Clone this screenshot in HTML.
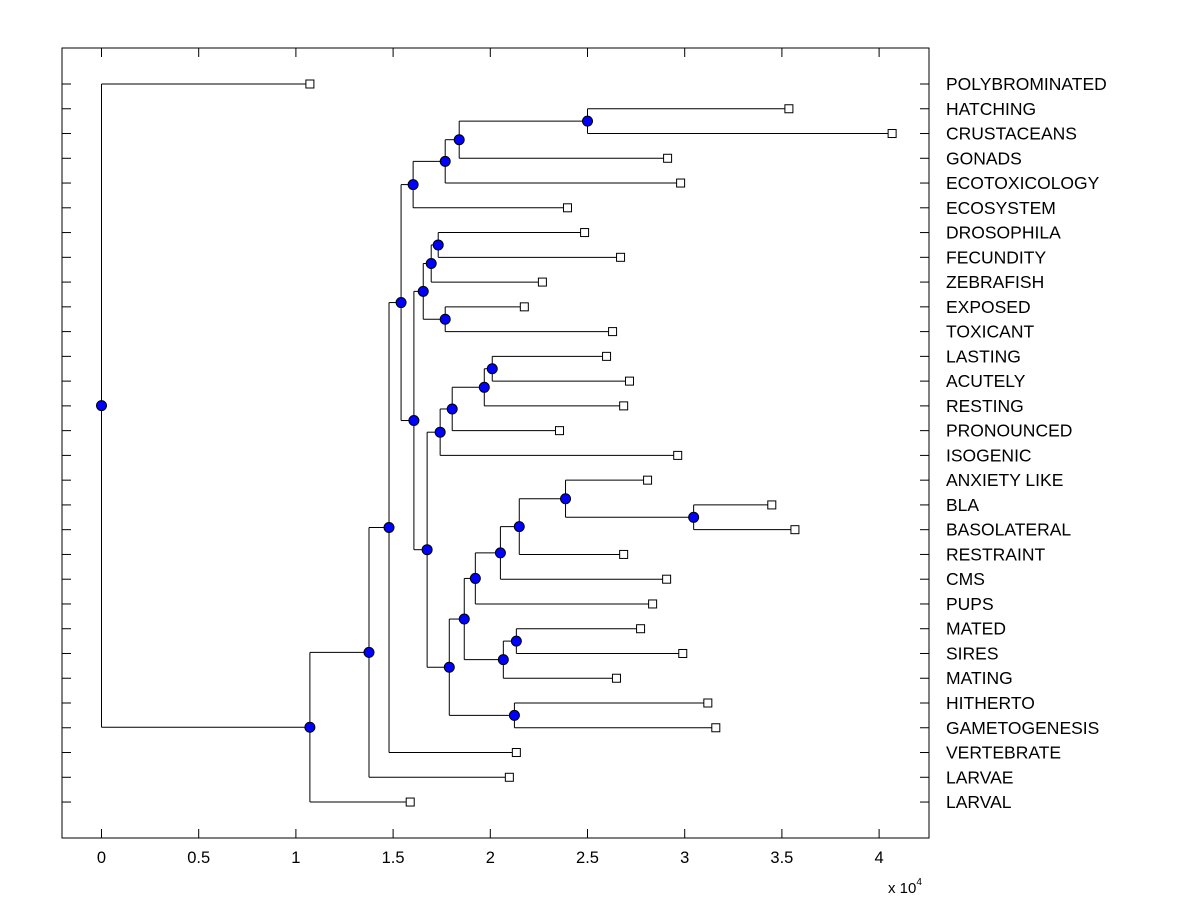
<!DOCTYPE html>
<html><head><meta charset="utf-8"><style>
body{margin:0;background:#fff;}
svg{display:block;font-family:"Liberation Sans",Arial,sans-serif;}
</style></head><body>
<svg id="chart" width="1200" height="900" viewBox="0 0 1200 900"></svg>
<script>
const labels=["POLYBROMINATED","HATCHING","CRUSTACEANS","GONADS","ECOTOXICOLOGY","ECOSYSTEM","DROSOPHILA","FECUNDITY","ZEBRAFISH","EXPOSED","TOXICANT","LASTING","ACUTELY","RESTING","PRONOUNCED","ISOGENIC","ANXIETY LIKE","BLA","BASOLATERAL","RESTRAINT","CMS","PUPS","MATED","SIRES","MATING","HITHERTO","GAMETOGENESIS","VERTEBRATE","LARVAE","LARVAL"];
const leafValues=[1.072,3.536,4.067,2.912,2.979,2.397,2.485,2.67,2.268,2.175,2.629,2.598,2.716,2.686,2.356,2.964,2.809,3.448,3.567,2.686,2.907,2.835,2.773,2.99,2.649,3.119,3.16,2.134,2.098,1.588];
// merges: [childA, childB] ; leaves 0..29, internal nodes 30+
const mergeChildren=[[1,2],[30,3],[31,4],[32,5],[6,7],[34,8],[9,10],[35,36],[11,12],[38,13],[39,14],[40,15],[17,18],[16,42],[43,19],[44,20],[45,21],[22,23],[47,24],[46,48],[25,26],[49,50],[41,51],[37,52],[33,53],[54,27],[55,28],[56,29],[0,57]];
const mergeHeights=[2.5,1.84,1.768,1.603,1.732,1.696,1.768,1.655,2.01,1.969,1.804,1.742,3.046,2.387,2.149,2.052,1.923,2.134,2.067,1.866,2.124,1.789,1.675,1.607,1.541,1.479,1.376,1.072,0];
const xTicks=[0,0.5,1,1.5,2,2.5,3,3.5,4];
</script>
<script>
const NS="http://www.w3.org/2000/svg";
const svg=document.getElementById('chart');
const L=62,R=929,T=48,B=838;
const x0=101.5,xs=194.4;
const X=v=>x0+v*xs;
const Y=r=>84+r*24.76;
function el(t,a,p){const e=document.createElementNS(NS,t);for(const k in a)e.setAttribute(k,a[k]);(p||svg).appendChild(e);return e;}
const nx=[],ny=[];
leafValues.forEach((v,i)=>{nx[i]=v;ny[i]=i;});
mergeChildren.forEach((c,k)=>{const id=30+k;nx[id]=mergeHeights[k];ny[id]=(ny[c[0]]+ny[c[1]])/2;});
const frame=el('rect',{x:L,y:T,width:R-L,height:B-T,fill:'none',stroke:'#000','stroke-width':1});


xTicks.forEach(t=>{
  const g=el('g',{});
  
  
  el('line',{x1:X(t),x2:X(t),y1:B,y2:B-9,stroke:'#000'},g);
  el('line',{x1:X(t),x2:X(t),y1:T,y2:T+9,stroke:'#000'},g);
  const tx=el('text',{x:X(t),y:863,'font-size':16.5,'text-anchor':'middle'},g);tx.textContent=String(t);
});
const ex=el('text',{x:888,y:893,'font-size':15});


ex.innerHTML='x 10<tspan dy="-8" font-size="10">4</tspan>';
labels.forEach((lab,i)=>{
  const g=el('g',{});
  
  
  el('line',{x1:L,x2:L+9,y1:Y(i),y2:Y(i),stroke:'#000'},g);
  el('line',{x1:R,x2:R-9,y1:Y(i),y2:Y(i),stroke:'#000'},g);
  const tx=el('text',{x:946,y:Y(i)+6,'font-size':17.5},g);tx.textContent=lab;
});
mergeChildren.forEach((c,k)=>{
  const id=30+k;const g=el('g',{});
  
  
  const px=X(nx[id]);
  el('line',{x1:px,x2:px,y1:Y(ny[c[0]]),y2:Y(ny[c[1]]),stroke:'#000'},g);
  c.forEach(ch=>{el('line',{x1:px,x2:X(nx[ch]),y1:Y(ny[ch]),y2:Y(ny[ch]),stroke:'#000'},g);});
});
leafValues.forEach((v,i)=>{
  const r=el('rect',{x:X(v)-4,y:Y(i)-4,width:8,height:8,fill:'#fff',stroke:'#000'});
  
  
});
mergeChildren.forEach((c,k)=>{
  const id=30+k;
  const ci=el('circle',{cx:X(nx[id]),cy:Y(ny[id]),r:5,fill:'#0000ff',stroke:'#000'});
  
  
});
</script>
</body></html>
